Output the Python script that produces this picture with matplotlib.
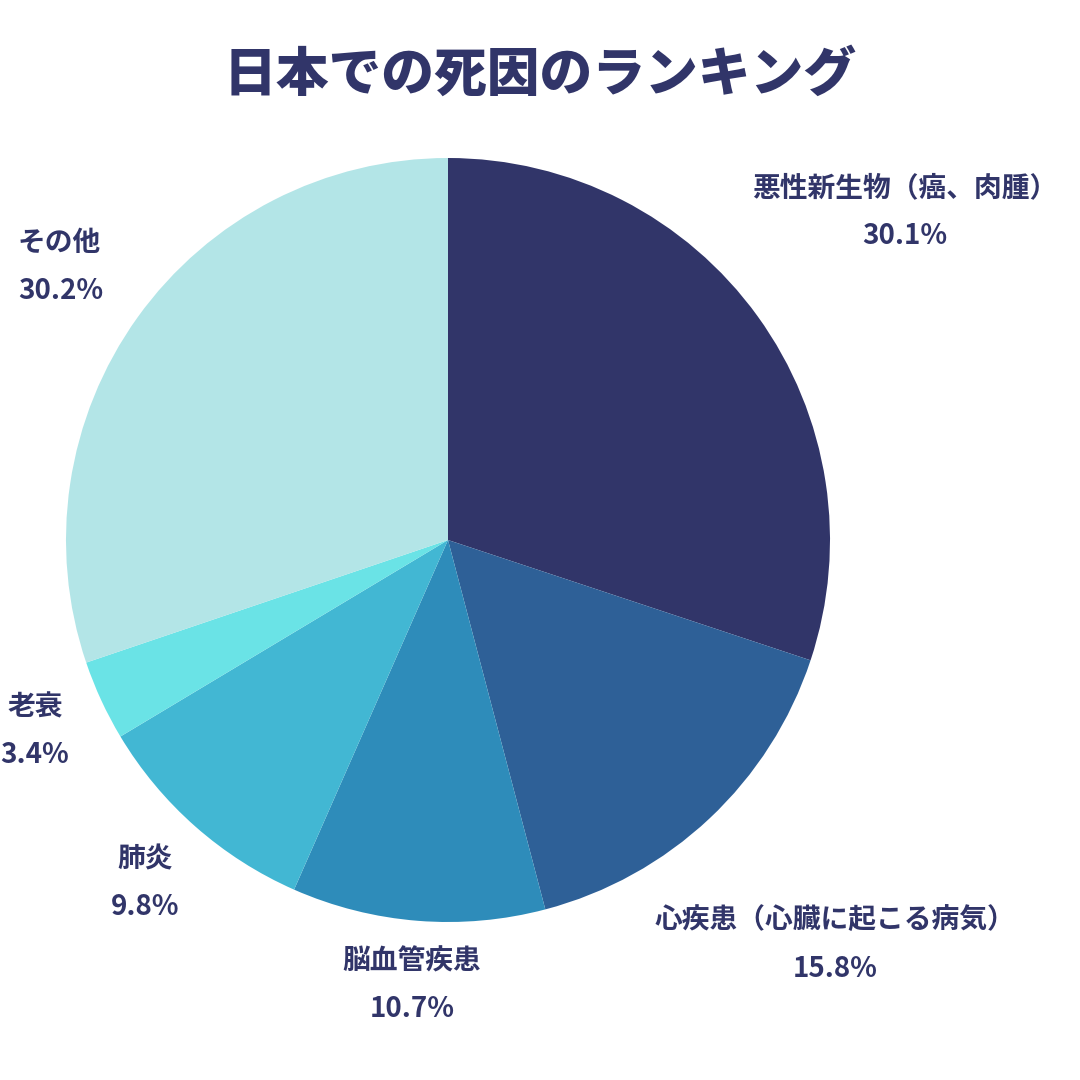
import matplotlib
matplotlib.use("Agg")
import matplotlib.pyplot as plt

plt.rcParams['font.family'] = ['Noto Sans CJK JP', 'DejaVu Sans']

categories = ["悪性新生物（癌、肉腫）", "心疾患（心臓に起こる病気）", "脳血管疾患", "肺炎", "老衰", "その他"]
values = [30.1, 15.8, 10.7, 9.8, 3.4, 30.2]
colors = ["#313569", "#2e6097", "#2e8cba", "#42b7d3", "#6ae3e6", "#b3e5e7"]
# label centres in pixels (x, y from top)
label_pos = [(905, 212), (835, 945), (412, 985), (145, 883), (35, 731), (65, 267)]
label_ha = ["center", "center", "center", "center", "center", "left"]

navy = "#313569"
fig = plt.figure(figsize=(10.8, 10.8), dpi=100)
ax = fig.add_axes([66 / 1080, 158 / 1080, 764 / 1080, 764 / 1080])
ax.pie(values, colors=colors, startangle=90, counterclock=False, radius=1,
       wedgeprops=dict(linewidth=0))
ax.set_xlim(-1, 1)
ax.set_ylim(-1, 1)
ax.set_aspect("equal")
ax.axis("off")

fig.text(540 / 1080, 1 - 75 / 1080, "日本での死因のランキング", ha="center", va="center",
         fontsize=38, fontweight="black", color=navy)

for cat, val, (x, y), ha in zip(categories, values, label_pos, label_ha):
    xf = (18 if ha == "left" else x) / 1080
    fig.text(xf, 1 - (y - 24) / 1080, cat, ha=ha, va="center",
             fontsize=20, fontweight="bold", color=navy)
    fig.text(xf, 1 - (y + 24) / 1080, f"{val:.1f}%", ha=ha, va="center",
             fontsize=20, fontweight="bold", color=navy)

fig.savefig("out.png", dpi=100, facecolor="white")
